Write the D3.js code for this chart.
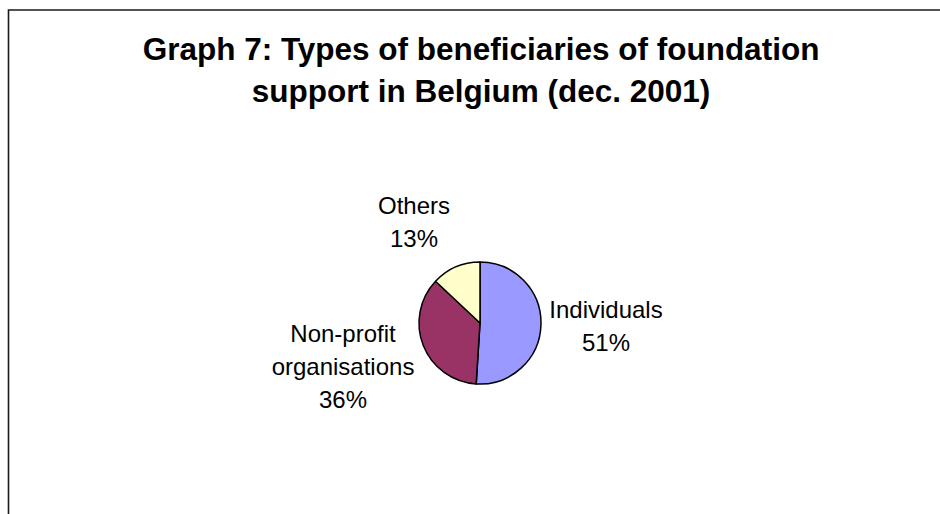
<!DOCTYPE html>
<meta charset="utf-8">
<style>
body { margin: 0; background: #fff; overflow: hidden; }
svg { display: block; }
text { font-family: Arial, "Liberation Sans", sans-serif; fill: #000; }
.title { font-size: 31.5px; font-weight: bold; }
.label { font-size: 24px; }
</style>
<body>
<script src="https://cdn.jsdelivr.net/npm/d3@7"></script>
<script>

// data
var categories = ["Individuals", "Non-profit organisations", "Others"];
var shares = [51, 36, 13];
var labelLines = [["Individuals", "51%"], ["Non-profit", "organisations", "36%"], ["Others", "13%"]];
var colors = ["#9999FF", "#993366", "#FFFFCC"];
var titleLines = ["Graph 7: Types of beneficiaries of foundation", "support in Belgium (dec. 2001)"];

var width = 940, height = 514;
var cx = 480, cy = 323, radius = 61;

var svg = d3.select("body").append("svg")
    .attr("width", width)
    .attr("height", height);

// chart area border (only left and top edges are inside the picture)
svg.append("path")
    .attr("d", "M8.5," + height + "V10H" + width)
    .attr("fill", "none")
    .attr("stroke", "#1a1a1a")
    .attr("stroke-width", 1.6);

// title
svg.append("text")
    .attr("class", "title")
    .attr("text-anchor", "middle")
  .selectAll("tspan")
    .data(titleLines)
  .enter().append("tspan")
    .attr("x", 481)
    .attr("y", function(d, i) { return 60 + i * 42; })
    .text(function(d) { return d; });

var pie = d3.pie().sort(null).value(function(d) { return d; });
var arc = d3.arc().innerRadius(0).outerRadius(radius);
var color = d3.scaleOrdinal().domain(categories).range(colors);

var g = svg.append("g")
    .attr("transform", "translate(" + cx + "," + cy + ")");

var arcs = pie(shares);

g.selectAll("path")
    .data(arcs)
  .enter().append("path")
    .attr("d", arc)
    .attr("fill", function(d, i) { return color(categories[i]); })
    .attr("stroke", "#000")
    .attr("stroke-width", 1.5)
    .attr("stroke-linejoin", "round");

// label placement relative to pie centre (first baseline)
var labelPos = [[126, -5], [-137, 19], [-66, -109]];
var lineGap = 33;

g.selectAll("text.label")
    .data(arcs)
  .enter().append("text")
    .attr("class", "label")
    .attr("text-anchor", "middle")
    .each(function(d, i) {
      d3.select(this).selectAll("tspan")
          .data(labelLines[i])
        .enter().append("tspan")
          .attr("x", labelPos[i][0])
          .attr("y", function(t, j) { return labelPos[i][1] + j * lineGap; })
          .text(function(t) { return t; });
    });

</script>
</body>
